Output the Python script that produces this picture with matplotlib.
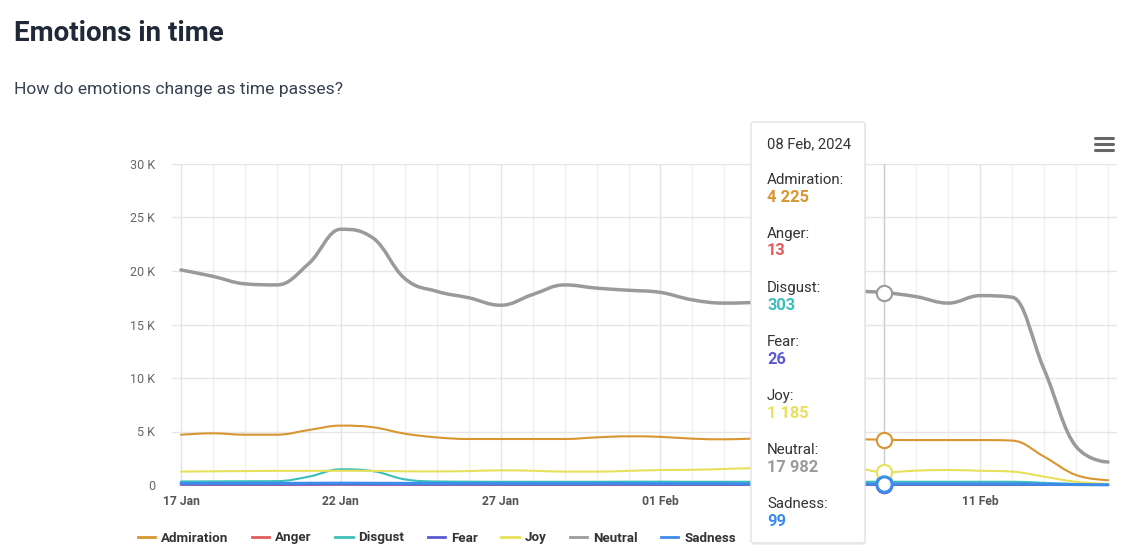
import matplotlib
matplotlib.use("Agg")
import matplotlib.pyplot as plt
import matplotlib.dates as mdates
import matplotlib.ticker as tick
from matplotlib.path import Path
from matplotlib.patches import PathPatch, FancyBboxPatch
from matplotlib.lines import Line2D
import numpy as np
import pandas as pd

plt.rcParams['font.family'] = ['Roboto', 'DejaVu Sans']

# data, one value per day (17 Jan .. 15 Feb 2024)
dates = pd.date_range('2024-01-17', '2024-02-15', freq='D')

admiration = [4700, 4830, 4700, 4700, 5140, 5550, 5400, 4800, 4450, 4300,
              4300, 4300, 4300, 4450, 4550, 4500, 4330, 4270, 4350, 4400,
              4350, 4300, 4225, 4200, 4200, 4200, 4150, 2650, 930, 450]
anger = [20, 18, 15, 15, 20, 30, 25, 18, 15, 15,
         15, 14, 14, 15, 15, 14, 14, 13, 13, 14,
         14, 13, 13, 13, 13, 13, 12, 8, 4, 2]
disgust = [330, 340, 350, 360, 780, 1470, 1300, 530, 330, 310,
           300, 300, 300, 300, 310, 310, 300, 300, 300, 300,
           300, 300, 303, 300, 300, 300, 300, 200, 100, 60]
fear = [40, 40, 40, 40, 45, 50, 45, 40, 35, 35,
        35, 35, 35, 35, 35, 30, 30, 30, 28, 28,
        28, 27, 26, 26, 26, 25, 25, 15, 8, 4]
joy = [1250, 1280, 1300, 1320, 1320, 1330, 1320, 1280, 1270, 1300,
       1370, 1330, 1250, 1250, 1320, 1400, 1420, 1500, 1580, 1600,
       1600, 1600, 1185, 1340, 1400, 1330, 1250, 780, 300, 100]
neutral = [20100, 19500, 18800, 18700, 20700, 23900, 23100, 19300, 18100, 17500,
           16800, 17800, 18700, 18400, 18200, 18000, 17300, 17000, 17100, 17500,
           17800, 18100, 17982, 17600, 17000, 17700, 17550, 10800, 3600, 2150]
sadness = [150, 150, 150, 150, 160, 170, 160, 150, 140, 140,
           140, 140, 140, 140, 140, 130, 130, 120, 110, 110,
           105, 100, 99, 100, 100, 100, 95, 70, 40, 20]

names = ['Admiration', 'Anger', 'Disgust', 'Fear', 'Joy', 'Neutral', 'Sadness']
series = [admiration, anger, disgust, fear, joy, neutral, sadness]
colors = ['#D99530', '#E35B5B', '#3CBFBA', '#5A5AD0', '#E8E05A', '#9A9A9A', '#3D8BEA']
widths = [1.5, 1.5, 1.5, 1.5, 1.5, 2.5, 2.2]

# the 06 Feb label sits under the tooltip in the reference, so it is left blank
x_ticks = ['2024-01-17', '2024-01-22', '2024-01-27', '2024-02-01', '2024-02-06', '2024-02-11']
x_labels = ['17 Jan', '22 Jan', '27 Jan', '01 Feb', '', '11 Feb']
hover_day = pd.Timestamp('2024-02-08')


def spline_path(xs, ys):
    # highcharts-like spline: cubic bezier segments through the data points
    n = len(xs)
    lc = [(xs[i], ys[i]) for i in range(n)]
    rc = [(xs[i], ys[i]) for i in range(n)]
    for i in range(1, n - 1):
        px, py = xs[i - 1], ys[i - 1]
        nx, ny = xs[i + 1], ys[i + 1]
        x, y = xs[i], ys[i]
        lx, ly = (1.5 * x + px) / 2.5, (1.5 * y + py) / 2.5
        rx, ry = (1.5 * x + nx) / 2.5, (1.5 * y + ny) / 2.5
        if rx != lx:
            corr = (ry - ly) * (rx - x) / (rx - lx) + y - ry
            ly += corr
            ry += corr
        if ly > py and ly > y:
            ly = max(py, y); ry = 2 * y - ly
        elif ly < py and ly < y:
            ly = min(py, y); ry = 2 * y - ly
        if ry > ny and ry > y:
            ry = max(ny, y); ly = 2 * y - ry
        elif ry < ny and ry < y:
            ry = min(ny, y); ly = 2 * y - ry
        lc[i] = (lx, ly)
        rc[i] = (rx, ry)
    verts = [(xs[0], ys[0])]
    codes = [Path.MOVETO]
    for i in range(1, n):
        verts += [rc[i - 1], lc[i], (xs[i], ys[i])]
        codes += [Path.CURVE4] * 3
    return Path(verts, codes)


fig = plt.figure(figsize=(11.4, 5.59), dpi=100)
ax = fig.add_axes([172 / 1140, 1 - 485 / 559, 945 / 1140, 321 / 559])

xnum = mdates.date2num(dates)
for vals, c, lw in zip(series, colors, widths):
    p = PathPatch(spline_path(list(xnum), list(vals)), fill=False, edgecolor=c,
                  lw=lw, capstyle='round', joinstyle='round', zorder=3, clip_on=False)
    ax.add_patch(p)

ax.set_xlim(xnum[0] - 0.28, xnum[-1] + 0.28)
ax.set_ylim(0, 30000)

for s in ax.spines.values():
    s.set_visible(False)

ax.yaxis.set_major_locator(tick.MultipleLocator(5000))
ax.yaxis.set_major_formatter(tick.FuncFormatter(lambda v, p: '0' if v == 0 else '%g K' % (v / 1000)))
ax.set_xticks(mdates.date2num(pd.to_datetime(x_ticks)))
ax.set_xticklabels(x_labels)
ax.xaxis.set_minor_locator(mdates.DayLocator())

ax.tick_params(axis='y', length=0, pad=12, labelsize=9, labelcolor='#666666')
ax.tick_params(axis='x', which='both', length=0, pad=7, labelsize=8.7, labelcolor='#555555')
for lab in ax.get_xticklabels():
    lab.set_fontweight('bold')

ax.set_axisbelow(True)
ax.grid(axis='y', color='#e6e6e6', lw=1)
ax.grid(axis='x', which='major', color='#e3e3e3', lw=1)
ax.grid(axis='x', which='minor', color='#f0f0f0', lw=1)

# hover crosshair and markers
hx = mdates.date2num(hover_day)
hi = list(dates).index(hover_day)
ax.axvline(hx, color='#cccccc', lw=1, zorder=2)
for vals, c, nm in zip(series, colors, names):
    mew = 2.2 if nm == 'Sadness' else 1.5
    ax.plot([hx], [vals[hi]], 'o', ms=11, mfc='white', mec=c, mew=mew, zorder=4, clip_on=False)

# title and subtitle
fig.text(14 / 1140, 1 - 41 / 559, 'Emotions in time', fontsize=20, fontweight='bold',
         color='#1F2937', va='baseline')
fig.text(14 / 1140, 1 - 94 / 559, 'How do emotions change as time passes?', fontsize=12.6,
         color='#374151', va='baseline')

# legend
handles = [Line2D([], [], color=c, lw=2) for c in colors]
leg = fig.legend(handles, names, loc='center', bbox_to_anchor=(437 / 1140, 1 - 538 / 559),
                 ncol=7, frameon=False, handlelength=1.3, handletextpad=0.45,
                 columnspacing=1.75, prop={'size': 9.6, 'weight': 'bold'})
for t in leg.get_texts():
    t.set_color('#333333')

# hamburger menu
for yy in [138, 144, 150]:
    fig.add_artist(Line2D([1095 / 1140, 1113 / 1140], [1 - yy / 559, 1 - yy / 559],
                          color='#666666', lw=2.2, solid_capstyle='round'))

# tooltip
bx0, by0, bw, bh = 751, 122, 114, 421
shadow = FancyBboxPatch((bx0 / 1140 + 1 / 1140, 1 - (by0 + bh + 2) / 559), bw / 1140, bh / 559,
                        boxstyle='round,pad=0,rounding_size=0.003', transform=fig.transFigure,
                        facecolor='#000000', alpha=0.06, edgecolor='none', zorder=9)
fig.add_artist(shadow)
box = FancyBboxPatch((bx0 / 1140, 1 - (by0 + bh) / 559), bw / 1140, bh / 559,
                     boxstyle='round,pad=0,rounding_size=0.003', transform=fig.transFigure,
                     facecolor='white', edgecolor='#e2e2e2', lw=1, zorder=10)
fig.add_artist(box)

tx = 767 / 1140
fig.text(tx, 1 - 144 / 559, hover_day.strftime('%d %b, %Y'), fontsize=10.6, color='#333333',
         va='center', zorder=11)
for k, (nm, vals, c) in enumerate(zip(names, series, colors)):
    ly = 180 + k * 54
    fig.text(tx, 1 - ly / 559, nm + ':', fontsize=10.8, color='#333333', va='center', zorder=11)
    val = '{:,}'.format(int(round(vals[hi]))).replace(',', ' ')
    fig.text(tx, 1 - (ly + 17) / 559, val, fontsize=11.8, color=c, fontweight='bold',
             va='center', zorder=11)

fig.savefig('out.png', dpi=100)
